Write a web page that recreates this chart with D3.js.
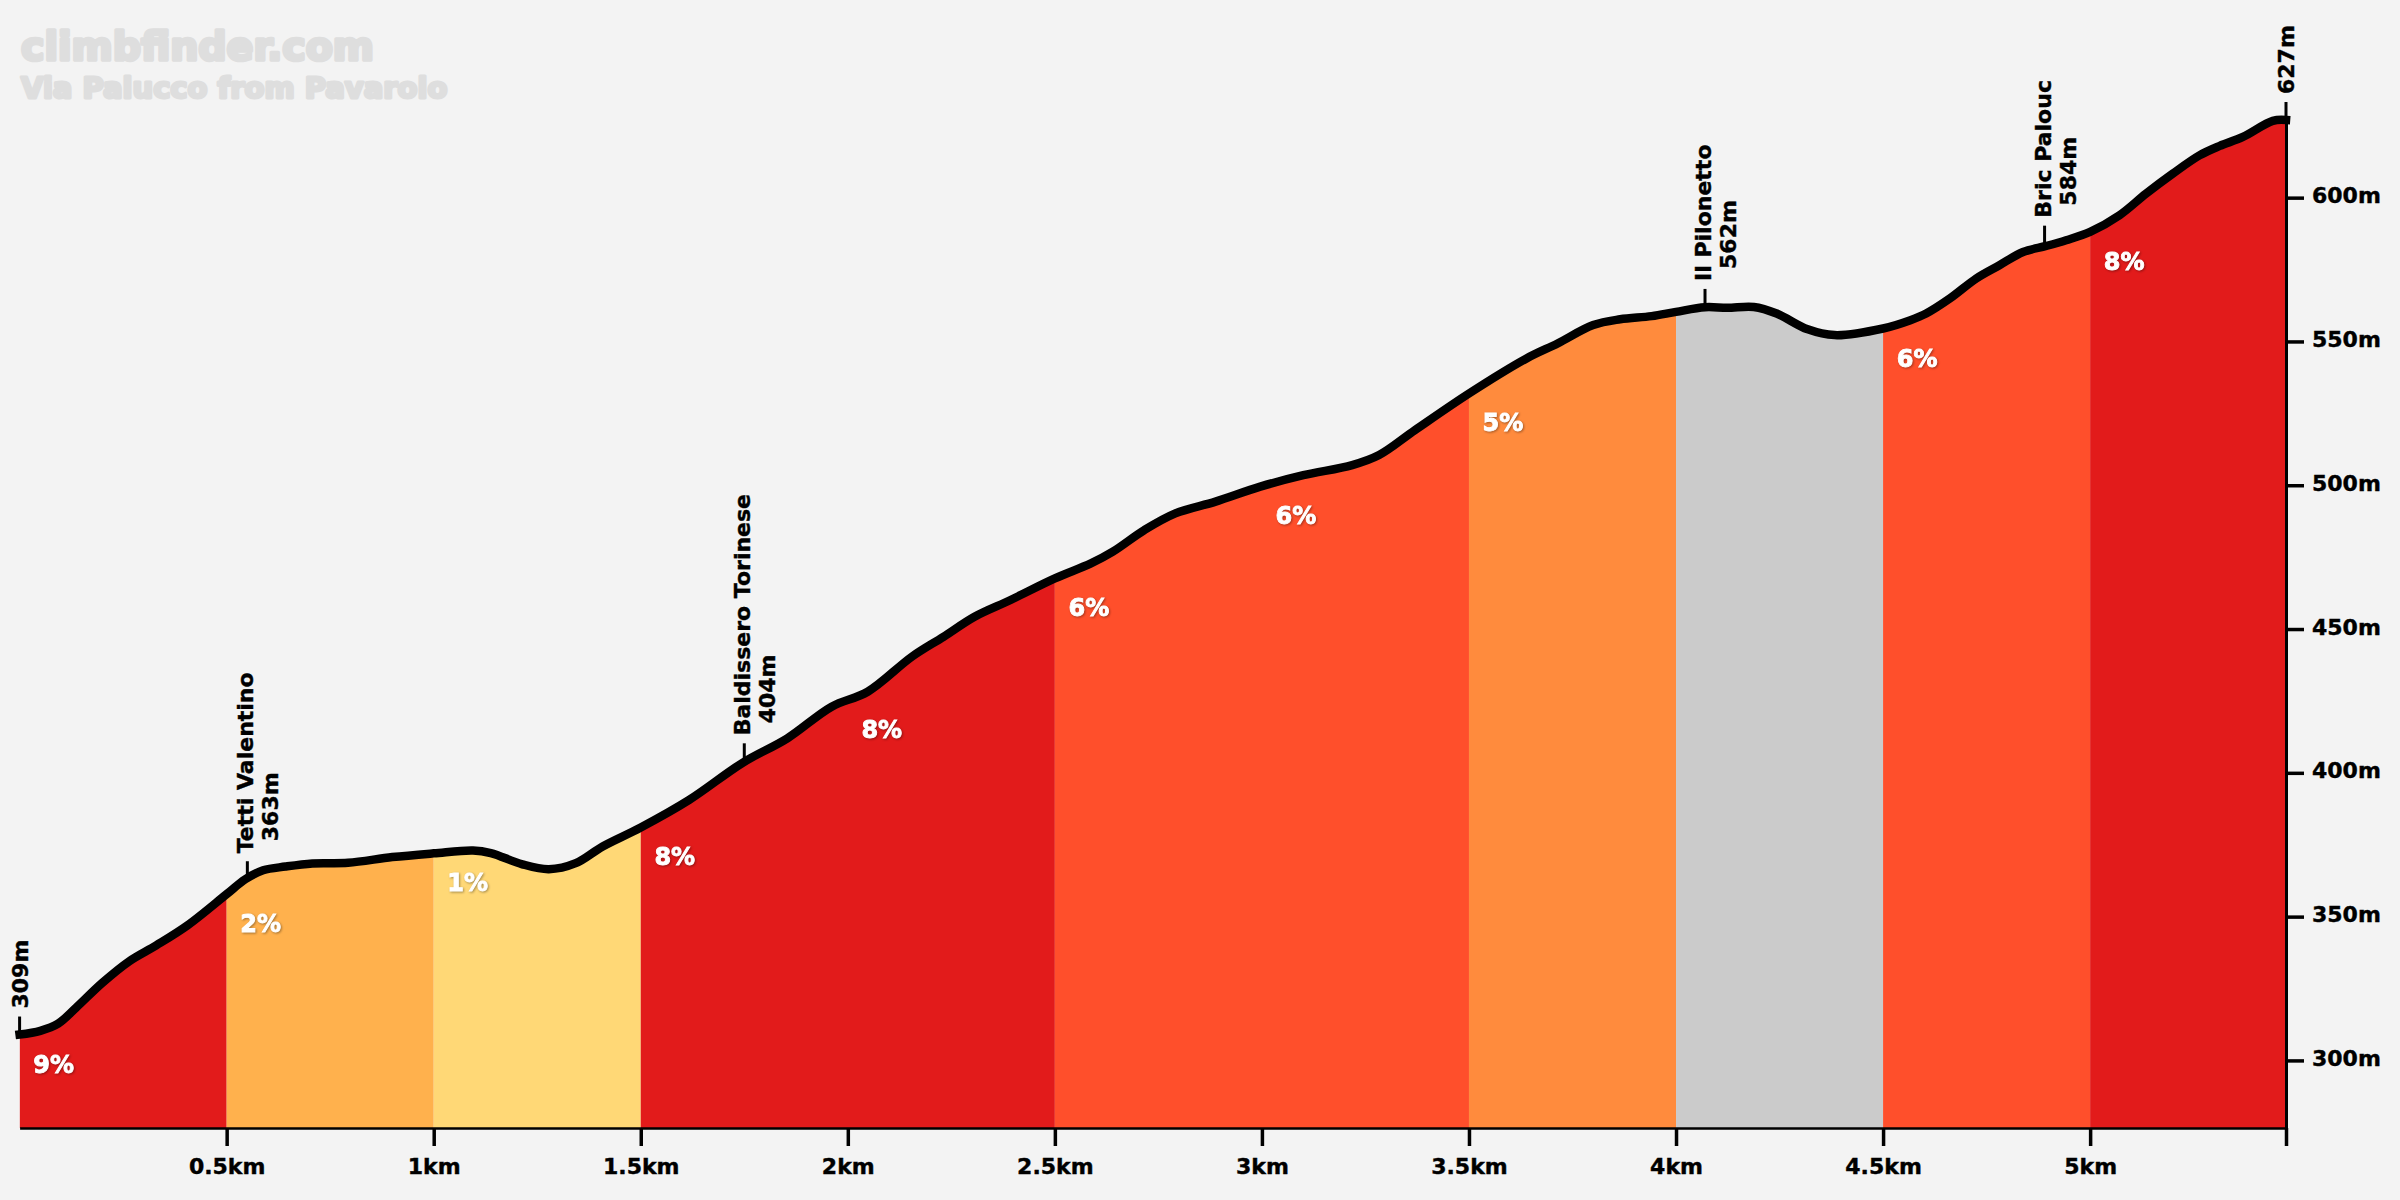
<!DOCTYPE html>
<html>
<head>
<meta charset="utf-8">
<script src="https://cdn.jsdelivr.net/npm/d3@7"></script>
<style>
    html, body { margin: 0; padding: 0; background: #f3f3f3; }
    svg { display: block; }
    .lbl { font-family: "DejaVu Sans", sans-serif; font-weight: 700; font-size: 22px; fill: #000; stroke: #000; stroke-width: 0.4px; }
    .brand { font-family: "DejaVu Sans", sans-serif; font-weight: 700; fill: #dedede; stroke: #dedede; stroke-linejoin: round; }
    .pct { font-family: "DejaVu Sans", sans-serif; font-weight: 700; font-size: 24px; fill: #fff; stroke: #fff; stroke-width: 0.9px; text-anchor: middle; filter: drop-shadow(1px 1px 1px rgba(0,0,0,.35)); }
</style>
</head>
<body>
<div id="chart"></div>
<script>
var profileKm = [0, 0.05, 0.093, 0.136, 0.2, 0.265, 0.33, 0.405, 0.5, 0.545, 0.588, 0.642, 0.707, 0.793, 0.9, 1, 1.095, 1.138, 1.214, 1.278, 1.343, 1.408, 1.5, 1.617, 1.746, 1.854, 1.961, 2.048, 2.155, 2.231, 2.306, 2.393, 2.5, 2.587, 2.64, 2.716, 2.791, 2.888, 2.996, 3.1, 3.218, 3.283, 3.37, 3.5, 3.639, 3.714, 3.8, 3.865, 3.941, 4, 4.07, 4.124, 4.188, 4.243, 4.318, 4.383, 4.5, 4.566, 4.604, 4.661, 4.725, 4.781, 4.838, 4.894, 4.942, 5, 5.071, 5.135, 5.2, 5.264, 5.313, 5.369, 5.441, 5.473];
var profileElev = [309, 310.3, 312.8, 318.3, 327, 334.5, 340, 346.9, 357.8, 363, 366.1, 367.4, 368.5, 368.7, 370.7, 372, 373, 372.1, 368.2, 366.5, 368.6, 374.4, 381, 390.6, 403.5, 412, 423, 428.2, 440.4, 447.3, 454.3, 460.1, 467.6, 472.8, 476.9, 484.4, 490.2, 494.3, 499.5, 503.5, 507, 510.5, 519.2, 531.9, 544.1, 549.3, 555.7, 557.7, 558.8, 560.3, 561.9, 561.7, 562, 559.7, 554.2, 552.2, 554.5, 557.4, 559.7, 564.9, 571.9, 576.5, 581.1, 583.2, 585.2, 588.1, 593.9, 601.4, 608.4, 614.7, 618, 621.1, 626.7, 627];

var segmentStarts = [0, 0.5, 1, 1.5, 2.5, 3.5, 4, 4.5, 5];
var segmentEnds = [0.5, 1, 1.5, 2.5, 3.5, 4, 4.5, 5, 5.473];
var segmentColors = ["#e21b1b", "#ffb14d", "#ffd876", "#e21b1b", "#ff4f2b", "#ff8b3d", "#cbcbcb", "#ff4f2b", "#e21b1b"];

var gradientKm = [0, 0.5, 1, 1.5, 2, 2.5, 3, 3.5, 4.5, 5];
var gradientText = ["9%", "2%", "1%", "8%", "8%", "6%", "6%", "5%", "6%", "8%"];

var placeNames = ["Tetti Valentino", "Baldissero Torinese", "Il Pilonetto", "Bric Palouc"];
var placeKm = [0.55, 1.75, 4.07, 4.89];
var placeElev = [363, 404, 562, 584];

var endKm = [0, 5.473];
var endElev = [309, 627];

var xTicks = [0.5, 1, 1.5, 2, 2.5, 3, 3.5, 4, 4.5, 5, 5.473];
var xTickText = ["0.5km", "1km", "1.5km", "2km", "2.5km", "3km", "3.5km", "4km", "4.5km", "5km", ""];
var yTicks = [300, 350, 400, 450, 500, 550, 600];

var width = 2400, height = 1200;

var x = d3.scaleLinear().domain([0, 5.473]).range([19.6, 2286]);
var y = d3.scaleLinear().domain([276.5, 627]).range([1128, 120]);

var svg = d3.select("#chart").append("svg")
    .attr("width", width)
    .attr("height", height)
    .style("background", "#f3f3f3");

var points = profileKm.map(function(d, i) { return [d, profileElev[i]]; });

var area = d3.area().x(function(d) { return x(d[0]); }).y0(y(276.5)).y1(function(d) { return y(d[1]); }).curve(d3.curveCatmullRom);
var line = d3.line().x(function(d) { return x(d[0]); }).y(function(d) { return y(d[1]); }).curve(d3.curveCatmullRom);

svg.append("clipPath").attr("id", "profile").append("path").attr("d", area(points));

svg.append("g").attr("clip-path", "url(#profile)")
    .selectAll("rect")
    .data(segmentStarts)
    .enter()
    .append("rect")
    .attr("x", function(d) { return x(d); })
    .attr("width", function(d, i) { return x(segmentEnds[i]) - x(d); })
    .attr("y", y(630))
    .attr("height", y(276.5) - y(630))
    .attr("fill", function(d, i) { return segmentColors[i]; });

// axes
var xAxis = d3.axisBottom(x).tickValues(xTicks).tickSize(18).tickSizeOuter(0)
    .tickFormat(function(d, i) { return xTickText[i]; });
var gx = svg.append("g").attr("transform", "translate(0," + y(276.5) + ")").call(xAxis);
gx.select(".domain").attr("stroke", "#000").attr("stroke-width", 2.5);
gx.selectAll(".tick line").attr("stroke", "#000").attr("stroke-width", 3.5);
gx.selectAll(".tick text").attr("class", "lbl").attr("y", 0).attr("dy", 45.5);

var yAxis = d3.axisRight(y).tickValues(yTicks).tickSize(18).tickSizeOuter(0)
    .tickFormat(function(d) { return d + "m"; });
var gy = svg.append("g").attr("transform", "translate(" + x(5.473) + ",0)").call(yAxis);
gy.select(".domain").attr("stroke", "#000").attr("stroke-width", 3);
gy.selectAll(".tick line").attr("stroke", "#000").attr("stroke-width", 3.5);
gy.selectAll(".tick text").attr("class", "lbl").attr("x", 26).attr("dy", 5);

// profile line
svg.append("path")
    .attr("d", line(points))
    .attr("fill", "none")
    .attr("stroke", "#000")
    .attr("stroke-width", 8.5)
    .attr("stroke-linecap", "square")
    .attr("stroke-linejoin", "round");

function elevAt(km) {
    var i = d3.bisectLeft(profileKm, km);
    if (i === 0) return profileElev[0];
    var t = (km - profileKm[i - 1]) / (profileKm[i] - profileKm[i - 1]);
    return profileElev[i - 1] + t * (profileElev[i] - profileElev[i - 1]);
}

// gradient labels
svg.selectAll(".pct")
    .data(gradientKm)
    .enter()
    .append("text")
    .attr("class", "pct")
    .attr("x", function(d) { return x(d) + 34; })
    .attr("y", function(d) { return y(elevAt(d)) + 38; })
    .text(function(d, i) { return gradientText[i]; });

// places on the climb
function marker(km, elev) {
    svg.append("line")
        .attr("x1", x(km)).attr("x2", x(km))
        .attr("y1", y(elev)).attr("y2", y(elev) - 18)
        .attr("stroke", "#000").attr("stroke-width", 3);
}

placeNames.forEach(function(name, i) {
    var px = x(placeKm[i]), py = y(placeElev[i]) - 26;
    marker(placeKm[i], placeElev[i]);
    svg.append("text").attr("class", "lbl")
        .attr("transform", "translate(" + (px + 6) + "," + py + ") rotate(-90)")
        .text(name);
    svg.append("text").attr("class", "lbl")
        .attr("transform", "translate(" + (px + 31) + "," + (py - 12) + ") rotate(-90)")
        .text(placeElev[i] + "m");
});

endKm.forEach(function(km, i) {
    marker(km, endElev[i]);
    svg.append("text").attr("class", "lbl")
        .attr("transform", "translate(" + (x(km) + 8) + "," + (y(endElev[i]) - 26) + ") rotate(-90)")
        .text(endElev[i] + "m");
});

// watermark
svg.append("text").attr("class", "brand")
    .attr("x", 21).attr("y", 60)
    .attr("font-size", 39.5).attr("stroke-width", 3.5)
    .text("climbfinder.com");
svg.append("text").attr("class", "brand")
    .attr("x", 21).attr("y", 98)
    .attr("font-size", 29).attr("stroke-width", 3)
    .text("Via Palucco from Pavarolo");
</script>
</body>
</html>
